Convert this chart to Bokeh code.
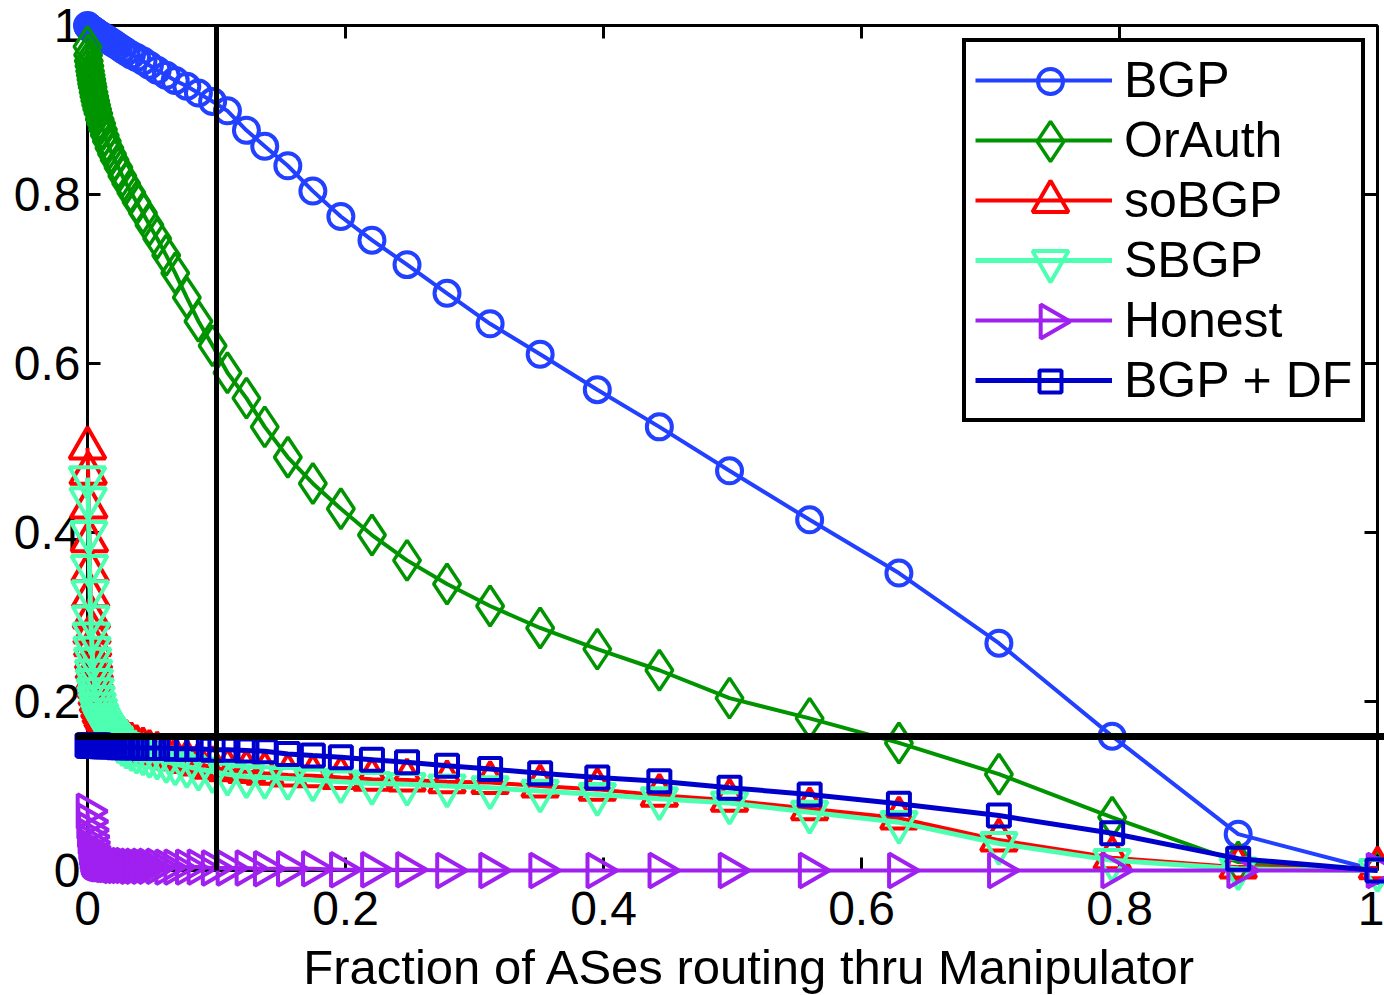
import numpy as np
from bokeh.plotting import figure
from bokeh.models import Range1d, LinearAxis, FixedTicker, Legend, LegendItem
from bokeh.embed import file_html
from bokeh.resources import INLINE

# ---------------- data ----------------
x_frac = [0.0, 0.0005, 0.001, 0.0015, 0.002, 0.0025, 0.003, 0.0035, 0.004, 0.0047,
          0.0053, 0.006, 0.0067, 0.0075, 0.0084, 0.0095, 0.0106, 0.012, 0.0134, 0.015,
          0.017, 0.019, 0.021, 0.024, 0.027, 0.030, 0.034, 0.038, 0.043, 0.048,
          0.054, 0.061, 0.068, 0.077, 0.086, 0.097, 0.1085, 0.1232, 0.1374, 0.1553,
          0.1747, 0.1964, 0.2205, 0.2477, 0.2787, 0.3121, 0.3509, 0.3952, 0.4433, 0.4977,
          0.5598, 0.629, 0.7065, 0.7943, 0.892, 1.0]

bgp = [1.0, 0.999, 0.998, 0.997, 0.997, 0.996, 0.996, 0.995, 0.995, 0.994,
       0.993, 0.993, 0.992, 0.991, 0.990, 0.989, 0.988, 0.987, 0.985, 0.984,
       0.982, 0.980, 0.978, 0.975, 0.972, 0.969, 0.965, 0.962, 0.958, 0.953,
       0.947, 0.941, 0.935, 0.928, 0.920, 0.910, 0.899, 0.876, 0.857, 0.834,
       0.804, 0.774, 0.746, 0.717, 0.683, 0.647, 0.611, 0.569, 0.525, 0.473,
       0.415, 0.352, 0.269, 0.159, 0.043, 0.0]

orauth = [0.975, 0.965, 0.958, 0.952, 0.946, 0.941, 0.936, 0.931, 0.927, 0.921,
          0.916, 0.911, 0.906, 0.901, 0.896, 0.889, 0.884, 0.877, 0.870, 0.863,
          0.855, 0.848, 0.841, 0.832, 0.822, 0.813, 0.802, 0.791, 0.778, 0.764,
          0.748, 0.728, 0.707, 0.678, 0.650, 0.621, 0.589, 0.559, 0.525, 0.489,
          0.458, 0.428, 0.397, 0.367, 0.339, 0.313, 0.287, 0.262, 0.237, 0.204,
          0.180, 0.151, 0.114, 0.063, 0.010, 0.0]

sobgp = [0.50, 0.47, 0.43, 0.39, 0.355, 0.325, 0.30, 0.282, 0.267, 0.252,
         0.24, 0.228, 0.218, 0.209, 0.201, 0.194, 0.188, 0.183, 0.179, 0.175,
         0.171, 0.167, 0.164, 0.159, 0.156, 0.153, 0.150, 0.147, 0.144, 0.141,
         0.139, 0.135, 0.132, 0.129, 0.126, 0.122, 0.119, 0.117, 0.115, 0.113,
         0.112, 0.110, 0.108, 0.107, 0.105, 0.104, 0.100, 0.096, 0.089, 0.083,
         0.073, 0.062, 0.036, 0.015, 0.004, 0.003]

sbgp = [0.465, 0.44, 0.40, 0.36, 0.33, 0.30, 0.28, 0.263, 0.25, 0.236,
        0.225, 0.214, 0.205, 0.197, 0.19, 0.184, 0.179, 0.175, 0.171, 0.168,
        0.164, 0.160, 0.157, 0.152, 0.149, 0.146, 0.143, 0.140, 0.138, 0.135,
        0.133, 0.129, 0.126, 0.123, 0.120, 0.117, 0.114, 0.111, 0.110, 0.109,
        0.107, 0.105, 0.103, 0.102, 0.100, 0.098, 0.094, 0.090, 0.085, 0.080,
        0.069, 0.057, 0.032, 0.012, 0.002, 0.0]

honest = [0.07, 0.058, 0.048, 0.04, 0.033, 0.027, 0.022, 0.018, 0.015, 0.013,
          0.012, 0.011, 0.010, 0.010, 0.009, 0.009, 0.008, 0.008, 0.008, 0.007,
          0.007, 0.007, 0.006, 0.006, 0.006, 0.006, 0.005, 0.005, 0.005, 0.005,
          0.005, 0.004, 0.004, 0.004, 0.004, 0.003, 0.003, 0.003, 0.002, 0.002,
          0.002, 0.001, 0.001, 0.001, 0.0, 0.0, 0.0, 0.0, 0.0, 0.0,
          0.0, 0.0, 0.0, 0.0, 0.0, 0.0]

bgp_df = [0.148, 0.148, 0.148, 0.148, 0.148, 0.148, 0.148, 0.148, 0.148, 0.148,
          0.148, 0.148, 0.148, 0.148, 0.148, 0.148, 0.147, 0.147, 0.147, 0.147,
          0.147, 0.147, 0.147, 0.146, 0.146, 0.146, 0.146, 0.146, 0.145, 0.145,
          0.145, 0.145, 0.144, 0.144, 0.144, 0.143, 0.143, 0.142, 0.141, 0.138,
          0.136, 0.134, 0.131, 0.128, 0.124, 0.120, 0.115, 0.110, 0.1055, 0.098,
          0.090, 0.079, 0.065, 0.044, 0.014, 0.0]

series_names = ["BGP", "OrAuth", "soBGP", "SBGP", "Honest", "BGP + DF"]
series_values = [bgp, orauth, sobgp, sbgp, honest, bgp_df]

tick_values = [0, 0.2, 0.4, 0.6, 0.8, 1]
tick_labels = ["0", "0.2", "0.4", "0.6", "0.8", "1"]
x_label = "Fraction of ASes routing thru Manipulator"

# zoom-indicator lines drawn on the original figure
zoom_vline_x = [0.1, 0.1]
zoom_vline_y = [0.0, 1.0]
zoom_hline_x = [-0.0093, 1.05]
zoom_hline_y = [0.1586, 0.1586]

# ---------------- styles ----------------
FONT = "Liberation Sans"
styles = [
    dict(color="#2140ff", marker="circle", size=25, lw=4, mlw=4, angle=0.0),
    dict(color="#009400", marker="diamond", size=40, lw=4, mlw=3.5, angle=0.0),
    dict(color="#ff0000", marker="triangle", size=36, lw=4, mlw=4, angle=0.0),
    dict(color="#4dffb0", marker="inverted_triangle", size=36, lw=5, mlw=4, angle=0.0),
    dict(color="#a020f0", marker="triangle", size=34, lw=4, mlw=4, angle=-np.pi / 2),
    dict(color="#0000cc", marker="square", size=22, lw=5, mlw=4, angle=0.0),
]

# ---------------- geometry (canvas pixels) ----------------
W, H = 1384, 995
X0, X1 = 87, 1377          # pixel of x=0 and x=1
Y0, Y1 = 870, 25           # pixel of y=0 and y=1
sx = (X1 - X0)
sy = (Y0 - Y1)
x_range = Range1d((0 - X0) / sx, (W - X0) / sx)
y_range = Range1d((Y0 - H) / sy, (Y0 - 0) / sy)


def px_to_x(px):
    return (px - X0) / sx


def py_to_y(py):
    return (Y0 - py) / sy


p = figure(width=W, height=H, x_range=x_range, y_range=y_range,
           output_backend="svg", toolbar_location=None,
           x_axis_type=None, y_axis_type=None,
           min_border_left=0, min_border_right=0,
           min_border_top=0, min_border_bottom=0)
p.outline_line_color = None
p.background_fill_color = "white"
p.border_fill_color = "white"

overrides = {v: t for v, t in zip(tick_values, tick_labels)}


def make_axis(loc, labels=True, bounds=(0, 1)):
    ax = LinearAxis(fixed_location=loc, bounds=bounds,
                    ticker=FixedTicker(ticks=tick_values),
                    major_label_overrides=overrides)
    ax.axis_line_color = "black"
    ax.axis_line_width = 3
    ax.major_tick_line_color = "black"
    ax.major_tick_line_width = 3
    ax.major_tick_in = 13
    ax.major_tick_out = 0
    ax.minor_tick_in = 0
    ax.minor_tick_out = 0
    ax.major_label_text_font = FONT
    ax.major_label_text_font_size = "48px"
    ax.major_label_text_color = "black" if labels else None
    ax.level = "underlay"
    return ax


xb = make_axis(0)
xb.major_label_standoff = 21
p.add_layout(xb, "below")

# a second, bare bottom axis only carries the axis title (centred where the original has it)
xlab = make_axis(0, labels=False, bounds=(0.022, 1.0054))
xlab.axis_line_color = None
xlab.major_tick_line_color = None
xlab.major_label_standoff = 21
xlab.axis_label = x_label
xlab.axis_label_text_font = FONT
xlab.axis_label_text_font_size = "49px"
xlab.axis_label_text_font_style = "normal"
xlab.axis_label_text_color = "black"
xlab.axis_label_standoff = 69
p.add_layout(xlab, "below")

yl = make_axis(0)
yl.major_label_standoff = 7
p.add_layout(yl, "left")

xt = make_axis(1, labels=False)
p.add_layout(xt, "above")
yr = make_axis(1, labels=False)
p.add_layout(yr, "right")

items = []
for name, vals, st in zip(series_names, series_values, styles):
    lr = p.line(x_frac, vals, line_color=st["color"], line_width=st["lw"])
    p.scatter(x_frac, vals, marker=st["marker"], size=st["size"],
              angle=st["angle"], line_color=st["color"],
              line_width=st["mlw"], fill_color=None)
    items.append(LegendItem(label=name, renderers=[lr]))

p.line(zoom_vline_x, zoom_vline_y, line_color="black", line_width=5)
p.line(zoom_hline_x, zoom_hline_y, line_color="black", line_width=7)

# legend box geometry (pixels)
LEG_LEFT, LEG_TOP, LEG_PAD, ROW_H, ROW_GAP = 962, 42, 9, 58, 2
n_items = len(items)
leg_height = 2 * LEG_PAD + n_items * ROW_H + (n_items - 1) * ROW_GAP
legend = Legend(items=items, location=(LEG_LEFT, H - LEG_TOP - leg_height - 4),
                border_line_color="black", border_line_width=4, border_line_alpha=1.0,
                background_fill_color="white", background_fill_alpha=0.0,
                label_text_font=FONT, label_text_font_size="50px",
                label_text_color="black",
                glyph_width=137, glyph_height=ROW_H, label_height=ROW_H,
                spacing=ROW_GAP, padding=LEG_PAD, label_standoff=12, margin=0)
p.add_layout(legend)

# legend sample markers (separate so that they keep the plot's marker shapes)
leg_mark_px = 1050
for i, st in enumerate(styles):
    row_center = LEG_TOP + LEG_PAD + i * (ROW_H + ROW_GAP) + ROW_H / 2 + 1
    p.scatter([px_to_x(leg_mark_px)], [py_to_y(row_center)], marker=st["marker"],
              size=st["size"], angle=st["angle"], line_color=st["color"],
              line_width=st["mlw"], fill_color="white")

open("out.html", "w").write(file_html(p, INLINE))
